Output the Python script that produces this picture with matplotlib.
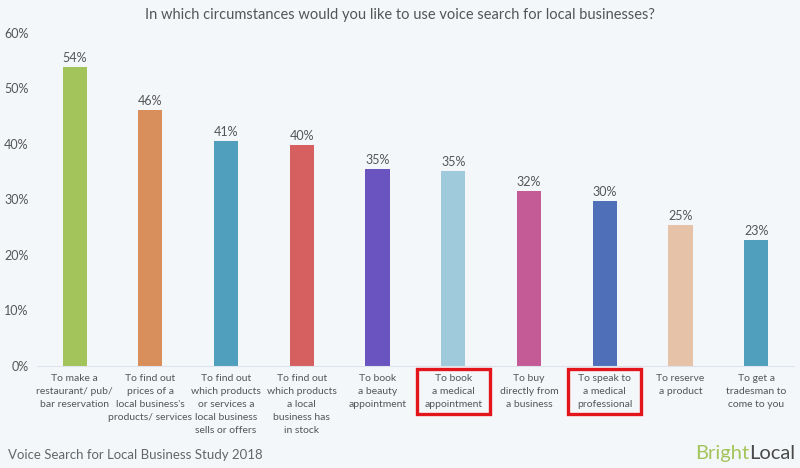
import matplotlib.pyplot as plt
from matplotlib.patches import Rectangle
import matplotlib.transforms as mtransforms

plt.rcParams['font.family'] = ['Lato', 'DejaVu Sans']

categories = [
    "To make a\nrestaurant/ pub/\nbar reservation",
    "To find out\nprices of a\nlocal business's\nproducts/ services",
    "To find out\nwhich products\nor services a\nlocal business\nsells or offers",
    "To find out\nwhich products\na local\nbusiness has\nin stock",
    "To book\na beauty\nappointment",
    "To book\na medical\nappointment",
    "To buy\ndirectly from\na business",
    "To speak to\na medical\nprofessional",
    "To reserve\na product",
    "To get a\ntradesman to\ncome to you",
]
values = [53.9, 46.1, 40.5, 39.8, 35.5, 35.1, 31.5, 29.7, 25.4, 22.7]
labels = ["54%", "46%", "41%", "40%", "35%", "35%", "32%", "30%", "25%", "23%"]
colors = ["#a3c45a", "#d98f5c", "#50a0bd", "#d65f5f", "#6a55c0",
          "#9fcadb", "#c45a96", "#4f70b8", "#e6c3a8", "#50a0bd"]
highlighted = [5, 7]
yticks = [0, 10, 20, 30, 40, 50, 60]

bg = "#f4f7fa"
fig = plt.figure(figsize=(8, 4.68), dpi=100, facecolor=bg)
ax = fig.add_axes([0.046, 0.218, 0.9465, 0.7115], facecolor=bg)

x = list(range(len(values)))
ax.bar(x, values, width=0.32, color=colors, zorder=2)
for xi, v, lab in zip(x, values, labels):
    ax.text(xi, v + 0.6, lab, ha='center', va='bottom', fontsize=9, color="#555555")

ax.set_xlim(-0.5, len(values) - 0.5)
ax.set_ylim(0, 60)
ax.set_yticks(yticks)
ax.set_yticklabels([f"{t}%" for t in yticks])
ax.set_xticks(x)
ax.set_xticklabels(categories, fontsize=7.5, color="#666666", va='top', linespacing=1.55)
ax.tick_params(axis='both', length=0, colors="#555555")
ax.tick_params(axis='x', pad=6)
ax.tick_params(axis='y', labelsize=9, pad=6)
for s in ['top', 'right', 'left']:
    ax.spines[s].set_visible(False)
ax.spines['bottom'].set_color("#dde3ea")
ax.spines['bottom'].set_linewidth(0.8)

trans = mtransforms.blended_transform_factory(ax.transData, ax.transAxes)
for i in highlighted:
    ax.add_patch(Rectangle((i - 0.48, -0.144), 0.96, 0.135, transform=trans,
                           fill=False, edgecolor="#e3141b", linewidth=2.4, clip_on=False))

fig.text(0.5, 0.968, "In which circumstances would you like to use voice search for local businesses?",
         ha='center', va='center', fontsize=10.5, color="#555555")
fig.text(0.01, 0.028, "Voice Search for Local Business Study 2018",
         ha='left', va='center', fontsize=9.5, color="#666666")

# logo: "Local" flush right, "Bright" placed just left of it
local = fig.text(0.994, 0.03, "Local", ha='right', va='center', fontsize=14.5, color="#4a4a4a")
renderer = fig.canvas.get_renderer()
bb = local.get_window_extent(renderer).transformed(fig.transFigure.inverted())
fig.text(bb.x0, 0.03, "Bright", ha='right', va='center', fontsize=14.5, color="#a3c45a")

fig.savefig("out.png", dpi=100, facecolor=bg)
